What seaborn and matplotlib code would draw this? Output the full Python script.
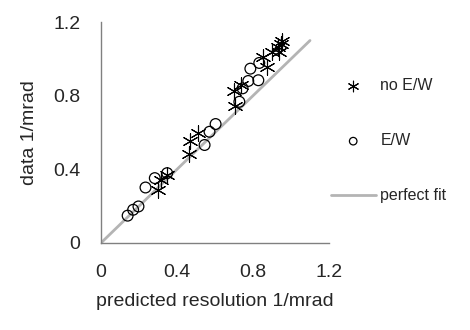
import numpy as np
import pandas as pd
import matplotlib
matplotlib.use("Agg")
import matplotlib.pyplot as plt
import seaborn as sns

# no E/W points (predicted, data)
no_ew_x = [0.300, 0.318, 0.348, 0.463, 0.470, 0.510, 0.706, 0.699, 0.737,
           0.872, 0.854, 0.900, 0.938, 0.947, 0.955, 0.930]
no_ew_y = [0.289, 0.343, 0.370, 0.484, 0.556, 0.595, 0.743, 0.825, 0.857,
           0.956, 1.010, 1.037, 1.037, 1.083, 1.100, 1.065]

# E/W points
ew_x = [0.140, 0.169, 0.197, 0.234, 0.283, 0.348, 0.545, 0.571, 0.603,
        0.728, 0.745, 0.775, 0.828, 0.786, 0.833]
ew_y = [0.148, 0.180, 0.198, 0.301, 0.352, 0.379, 0.532, 0.604, 0.646,
        0.767, 0.840, 0.880, 0.884, 0.947, 0.978]

fit_x = [0.0, 1.1]
fit_y = [0.0, 1.1]

x_ticks = [0, 0.4, 0.8, 1.2]
x_tick_labels = ["0", "0.4", "0.8", "1.2"]

sns.set_style("white")
plt.rcParams['font.family'] = ['Liberation Sans', 'DejaVu Sans']

fig = plt.figure(figsize=(4.7, 3.3), dpi=100)
ax = fig.add_axes([0.215, 0.264, 0.485, 0.669])

sns.lineplot(x=fit_x, y=fit_y, ax=ax, color="#b4b4b4", linewidth=2,
             label="perfect fit", zorder=1)
star = (6, 2, 0)
sns.scatterplot(x=no_ew_x, y=no_ew_y, ax=ax, marker=star, s=120,
                color="black", linewidth=0.8, label="no E/W", zorder=3)
sns.scatterplot(x=ew_x, y=ew_y, ax=ax, marker="o", s=60,
                facecolor="none", edgecolor="black", linewidth=0.9,
                label="E/W", zorder=2)

ax.set_xlim(0, 1.2)
ax.set_ylim(0, 1.2)
ax.set_xticks(x_ticks)
ax.set_xticklabels(x_tick_labels)
ax.set_yticks(x_ticks)
ax.set_yticklabels(x_tick_labels)
ax.set_xlabel("predicted resolution 1/mrad", fontsize=14, labelpad=9)
ax.set_ylabel("data 1/mrad", fontsize=14, labelpad=11)

for side in ["top", "right"]:
    ax.spines[side].set_visible(False)
for side in ["left", "bottom"]:
    ax.spines[side].set_color("#808080")
    ax.spines[side].set_linewidth(1)
ax.tick_params(direction="out", length=5, width=1, color="#808080",
               labelsize=14, pad=10)

handles, labels = ax.get_legend_handles_labels()
order = [labels.index("no E/W"), labels.index("E/W"), labels.index("perfect fit")]
ax.legend([handles[i] for i in order], [labels[i] for i in order],
          loc="upper left", bbox_to_anchor=(0.945, 0.81), frameon=False,
          fontsize=11.5, handlelength=2.8, labelspacing=2.5,
          handletextpad=0.3, markerscale=0.7)

fig.savefig("out.png", dpi=100)
